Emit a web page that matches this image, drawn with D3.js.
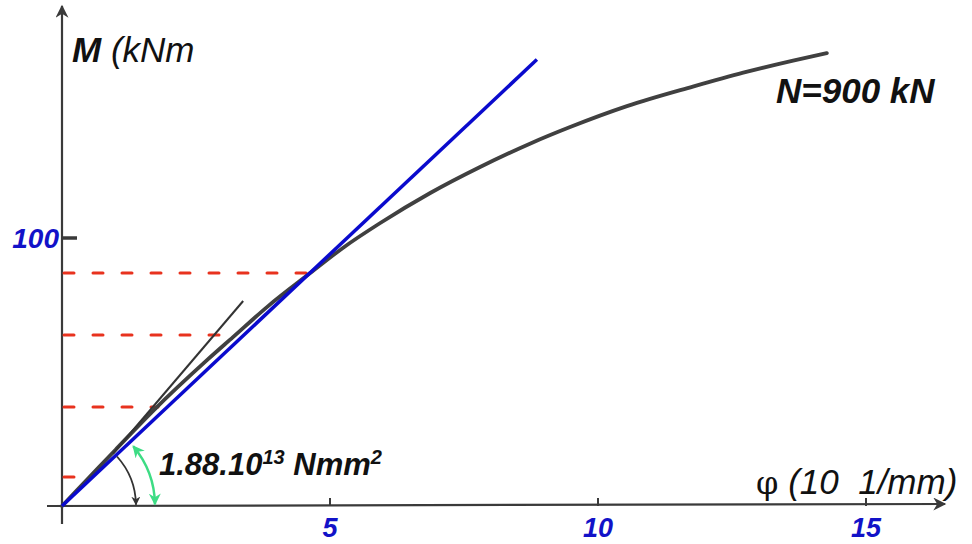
<!DOCTYPE html>
<html>
<head>
<meta charset="utf-8">
<script src="https://cdn.jsdelivr.net/npm/d3@7"></script>
<style>
  body { margin: 0; background: #fff; }
  svg { display: block; font-family: Arial, "Liberation Sans", sans-serif; }
</style>
</head>
<body>
<div id="chart"></div>
<script>
// đường cong M-phi (phi, M)
const curvePhi = [0, 0.5, 1.0, 1.7, 2.71, 3.19, 3.84, 4.63, 5.24, 5.93, 6.87, 7.8, 8.73, 9.48, 10.54, 11.77, 12.71, 13.64, 14.27];
const curveM   = [0, 10.5, 21, 35.5, 54.5, 63, 74.5, 86.9, 96.3, 105.5, 116.8, 126.5, 135.2, 141.4, 149.2, 156.5, 161.7, 166.2, 169];

// độ cứng cát tuyến (1.88.10^13 Nmm2 -> 18.8 trên thang vẽ)
const secantEI = 18.8;
const secantEnd = 8.86;

// tiếp tuyến ban đầu (đường mảnh)
const tangentPhi = [0.95, 3.38];
const tangentM = [19.5, 76.5];

// các mức M được chiếu (nét đứt đỏ)
const levelM = [86.9, 63.8, 36.9, 10.8];
const levelPhiEnd = [4.63, 3.19, 1.79, 0.45];

const xTicks = [5, 10, 15];
const yTicks = [100];

const width = 972, height = 544;
const svg = d3.select("#chart").append("svg")
  .attr("width", width).attr("height", height);

const x = d3.scaleLinear().domain([0, 15]).range([62, 866]);
const y = d3.scaleLinear().domain([0, 100]).range([506, 238]);

const defs = svg.append("defs");
function arrowMarker(id, color, w, h) {
  defs.append("marker")
    .attr("id", id)
    .attr("viewBox", "0 0 10 10")
    .attr("refX", 9).attr("refY", 5)
    .attr("markerWidth", w).attr("markerHeight", h)
    .attr("markerUnits", "userSpaceOnUse")
    .attr("orient", "auto-start-reverse")
    .append("path")
    .attr("d", "M0,0 L10,5 L0,10 L3,5 Z")
    .attr("fill", color);
}
arrowMarker("axArrow", "#3a3a3a", 22, 13);
arrowMarker("blkArrow", "#333", 9, 9);
arrowMarker("grnArrow", "#3ddc84", 12, 12);

const axisColor = "#3a3a3a";

// trục x
svg.append("line")
  .attr("x1", 47).attr("y1", y(0)).attr("x2", 945).attr("y2", y(0) - 2)
  .attr("stroke", axisColor).attr("stroke-width", 2.2)
  .attr("marker-end", "url(#axArrow)");
// trục y
svg.append("line")
  .attr("x1", x(0)).attr("y1", 524).attr("x2", x(0)).attr("y2", 6)
  .attr("stroke", axisColor).attr("stroke-width", 2.2)
  .attr("marker-end", "url(#axArrow)");

// vạch chia
svg.selectAll(".xtick").data(xTicks).join("line")
  .attr("x1", d => x(d)).attr("x2", d => x(d))
  .attr("y1", y(0)).attr("y2", y(0) - 8)
  .attr("stroke", axisColor).attr("stroke-width", 2);
svg.selectAll(".ytick").data(yTicks).join("line")
  .attr("x1", x(0)).attr("x2", x(0) + 15)
  .attr("y1", d => y(d)).attr("y2", d => y(d))
  .attr("stroke", axisColor).attr("stroke-width", 3.5);

// nhãn trục
svg.selectAll(".xlab").data(xTicks).join("text")
  .attr("x", d => x(d)).attr("y", 537)
  .attr("text-anchor", "middle")
  .style("font-size", "27px").style("font-weight", "bold").style("font-style", "italic")
  .attr("fill", "#1212c8")
  .text(d => d);
svg.selectAll(".ylab").data(yTicks).join("text")
  .attr("x", 59).attr("y", d => y(d) + 10)
  .attr("text-anchor", "end")
  .style("font-size", "28px").style("font-weight", "bold").style("font-style", "italic")
  .attr("fill", "#1212c8")
  .text(d => d);

// nét đứt đỏ
const levels = levelM.map((m, i) => ({ m, end: levelPhiEnd[i] }));
svg.selectAll(".lvl").data(levels).join("line")
  .attr("x1", x(0) + 2).attr("x2", d => x(d.end))
  .attr("y1", d => y(d.m)).attr("y2", d => y(d.m))
  .attr("stroke", "#e8321e").attr("stroke-width", 3)
  .attr("stroke-linecap", "round")
  .attr("stroke-dasharray", "10,19");

// đường cong M-phi
const curveData = curvePhi.map((p, i) => [p, curveM[i]]);
svg.append("path")
  .datum(curveData)
  .attr("d", d3.line().x(d => x(d[0])).y(d => y(d[1])).curve(d3.curveMonotoneX))
  .attr("fill", "none").attr("stroke", "#404040").attr("stroke-width", 3.8)
  .attr("stroke-linecap", "round");

// tiếp tuyến mảnh
svg.append("line")
  .attr("x1", x(tangentPhi[0])).attr("y1", y(tangentM[0]))
  .attr("x2", x(tangentPhi[1])).attr("y2", y(tangentM[1]))
  .attr("stroke", "#333").attr("stroke-width", 2);

// cát tuyến xanh
svg.append("line")
  .attr("x1", x(0)).attr("y1", y(0))
  .attr("x2", x(secantEnd)).attr("y2", y(secantEI * secantEnd))
  .attr("stroke", "#0a0acd").attr("stroke-width", 3.5);

// cung góc
function arcPath(r, deg0, deg1) {
  const a0 = -deg0 * Math.PI / 180, a1 = -deg1 * Math.PI / 180;
  const p = d3.path();
  p.moveTo(x(0) + r * Math.cos(a0), y(0) + r * Math.sin(a0));
  p.arc(x(0), y(0), r, a0, a1, false);
  return p.toString();
}
svg.append("path")
  .attr("d", arcPath(74, 42, 1))
  .attr("fill", "none").attr("stroke", "#333").attr("stroke-width", 1.8)
  .attr("marker-end", "url(#blkArrow)");
svg.append("path")
  .attr("d", arcPath(93, 40, 1))
  .attr("fill", "none").attr("stroke", "#3ddc84").attr("stroke-width", 2.5)
  .attr("marker-start", "url(#grnArrow)")
  .attr("marker-end", "url(#grnArrow)");

// chú thích
const ann = svg.append("text")
  .attr("x", 159).attr("y", 475)
  .style("font-size", "31px").style("font-weight", "bold").style("font-style", "italic")
  .attr("fill", "#111");
ann.append("tspan").text("1.88.10");
ann.append("tspan").attr("dy", -11).style("font-size", "20px").text("13");
ann.append("tspan").attr("dy", 11).text(" Nmm");
ann.append("tspan").attr("dy", -11).style("font-size", "20px").text("2");

const mLab = svg.append("text")
  .attr("x", 72).attr("y", 62)
  .style("font-size", "35px").style("font-style", "italic").attr("fill", "#111");
mLab.append("tspan").style("font-weight", "bold").text("M");
mLab.append("tspan").text(" (kNm");

svg.append("text")
  .attr("x", 776).attr("y", 103)
  .style("font-size", "35px").style("font-weight", "bold").style("font-style", "italic")
  .attr("fill", "#111")
  .text("N=900 kN");

const phiLab = svg.append("text")
  .attr("x", 756).attr("y", 494)
  .style("font-size", "35px").attr("fill", "#111");
phiLab.append("tspan").style("font-family", "'DejaVu Serif', 'Liberation Serif', serif").style("font-size", "32px").text("φ");
phiLab.append("tspan").style("font-style", "italic").text(" (10\u00a0\u00a01/mm)");
</script>
</body>
</html>
